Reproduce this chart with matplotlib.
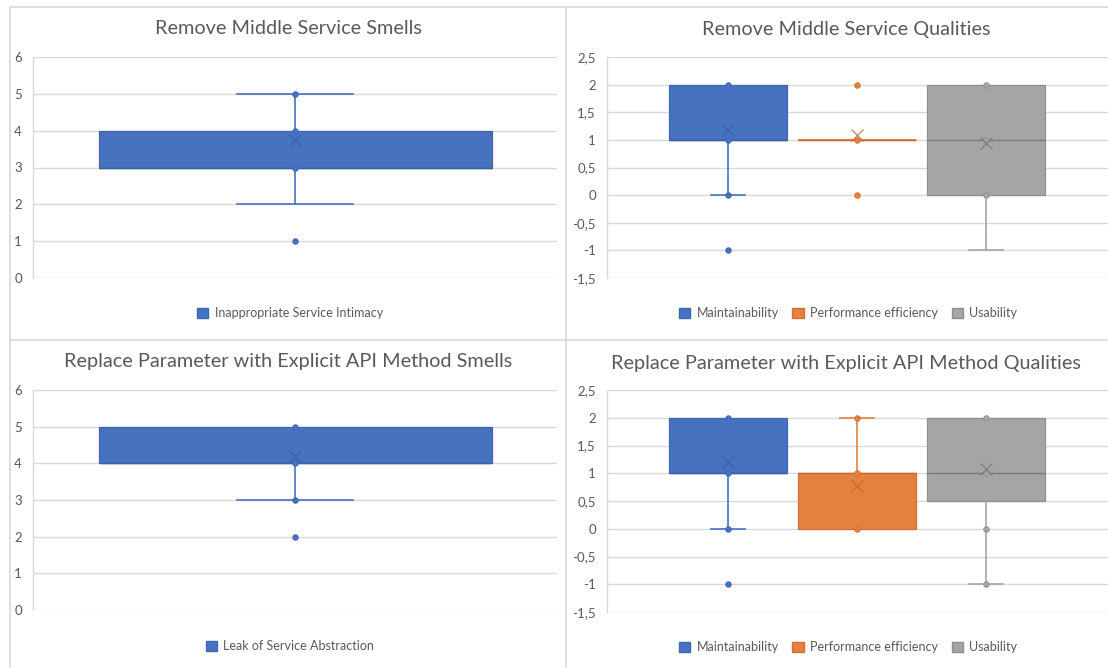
import matplotlib
matplotlib.use('Agg')
import matplotlib.pyplot as plt
from matplotlib.patches import Patch
from matplotlib.lines import Line2D

plt.rcParams['font.family'] = ['Lato', 'DejaVu Sans']

W, H = 1108, 668

# ---------------- data ----------------
titles = ['Remove Middle Service Smells',
          'Remove Middle Service Qualities',
          'Replace Parameter with Explicit API Method Smells',
          'Replace Parameter with Explicit API Method Qualities']

quality_names = ['Maintainability', 'Performance efficiency', 'Usability']

# Remove Middle Service - smells
rms_smell_names = ['Inappropriate Service Intimacy']
rms_smell_q1 = [3]
rms_smell_med = [3]
rms_smell_q3 = [4]
rms_smell_lo = [2]
rms_smell_hi = [5]
rms_smell_mean = [3.75]
rms_smell_points = [[5, 4, 3, 1]]

# Remove Middle Service - qualities
rms_q1 = [1, 1, 0]
rms_med = [1, 1, 1]
rms_q3 = [2, 1, 2]
rms_lo = [0, 1, -1]
rms_hi = [2, 1, 2]
rms_mean = [1.17, 1.08, 0.95]
rms_points = [[2, 1, 0, -1], [2, 1, 0], [2, 1, 0]]

# Replace Parameter with Explicit API Method - smells
rpe_smell_names = ['Leak of Service Abstraction']
rpe_smell_q1 = [4]
rpe_smell_med = [4]
rpe_smell_q3 = [5]
rpe_smell_lo = [3]
rpe_smell_hi = [5]
rpe_smell_mean = [4.2]
rpe_smell_points = [[5, 4, 3, 2]]

# Replace Parameter with Explicit API Method - qualities
rpe_q1 = [1, 0, 0.5]
rpe_med = [1, 1, 1]
rpe_q3 = [2, 1, 2]
rpe_lo = [0, 0, -1]
rpe_hi = [2, 2, 2]
rpe_mean = [1.2, 0.77, 1.08]
rpe_points = [[2, 1, 0, -1], [2, 1, 0], [2, 1, 0, -1]]

smell_ticks = [0, 1, 2, 3, 4, 5, 6]
quality_ticks = [-1.5, -1, -0.5, 0, 0.5, 1, 1.5, 2, 2.5]

# ---------------- style ----------------
FILL = ['#4672C0', '#E4813F', '#A5A5A5']
EDGE = ['#3E67B1', '#D27230', '#8F8F8F']
DARK = ['#3A5FA8', '#C9672A', '#7A7A7A']
TXT = '#595959'
GRID = '#D9D9D9'

fig = plt.figure(figsize=(W / 100, H / 100), dpi=100)


def rect(l, t, r, b):
    return [l / W, 1 - b / H, (r - l) / W, (b - t) / H]


def fmt(v):
    s = ('%g' % v).replace('.', ',')
    return s


def panel(ax, names, q1, med, q3, lo, hi, mean, points, ticks, xlim, width, capw):
    n = len(names)
    pos = list(range(1, n + 1))
    stats = []
    for i in range(n):
        stats.append(dict(q1=q1[i], med=med[i], q3=q3[i], whislo=lo[i],
                          whishi=hi[i], mean=mean[i], fliers=[]))
    r = ax.bxp(stats, positions=pos, widths=width, capwidths=capw,
               patch_artist=True, showmeans=True, showfliers=False,
               manage_ticks=False)
    for i in range(n):
        b = r['boxes'][i]
        b.set_facecolor(FILL[i]); b.set_edgecolor(EDGE[i]); b.set_linewidth(0.9)
        b.set_zorder(2)
        r['medians'][i].set_color(DARK[i]); r['medians'][i].set_linewidth(1.0)
        for k in (2 * i, 2 * i + 1):
            r['whiskers'][k].set_color(FILL[i]); r['whiskers'][k].set_linewidth(1.2)
            r['caps'][k].set_color(FILL[i]); r['caps'][k].set_linewidth(1.2)
        if lo[i] == q1[i]:
            r['whiskers'][2 * i].set_visible(False); r['caps'][2 * i].set_visible(False)
        if hi[i] == q3[i]:
            r['whiskers'][2 * i + 1].set_visible(False); r['caps'][2 * i + 1].set_visible(False)
        if q1[i] == q3[i]:
            b.set_edgecolor(FILL[i]); b.set_linewidth(1.3)
        m = r['means'][i]
        m.set_marker('x'); m.set_markersize(8); m.set_markeredgecolor(DARK[i])
        m.set_markeredgewidth(0.9); m.set_alpha(0.85); m.set_zorder(5)
        ax.scatter([pos[i]] * len(points[i]), points[i], s=16, color=FILL[i],
                   edgecolor=EDGE[i], linewidth=0.6, zorder=4)
    ax.set_xlim(*xlim)
    ax.set_ylim(ticks[0], ticks[-1])
    ax.set_yticks(ticks)
    ax.set_yticklabels([fmt(t) for t in ticks])
    ax.set_xticks([])
    ax.tick_params(axis='y', length=0, pad=8, labelsize=9.5, labelcolor=TXT)
    for s in ('top', 'right', 'bottom'):
        ax.spines[s].set_visible(False)
    ax.spines['left'].set_color(GRID)
    ax.spines['left'].set_linewidth(1.0)
    ax.grid(axis='y', color=GRID, linewidth=1.0)
    ax.set_axisbelow(True)
    ax.patch.set_alpha(0)


ax1 = fig.add_axes(rect(33, 57, 557, 278))
panel(ax1, rms_smell_names, rms_smell_q1, rms_smell_med, rms_smell_q3, rms_smell_lo,
      rms_smell_hi, rms_smell_mean, rms_smell_points, smell_ticks, (0.5, 1.5), 0.75, 0.221)

ax2 = fig.add_axes(rect(607, 57, 1108, 278))
panel(ax2, quality_names, rms_q1, rms_med, rms_q3, rms_lo, rms_hi, rms_mean, rms_points,
      quality_ticks, (0.062, 3.946), 0.915, 0.264)

ax3 = fig.add_axes(rect(33, 390, 557, 610))
panel(ax3, rpe_smell_names, rpe_smell_q1, rpe_smell_med, rpe_smell_q3, rpe_smell_lo,
      rpe_smell_hi, rpe_smell_mean, rpe_smell_points, smell_ticks, (0.5, 1.5), 0.75, 0.221)

ax4 = fig.add_axes(rect(607, 390, 1108, 612))
panel(ax4, quality_names, rpe_q1, rpe_med, rpe_q3, rpe_lo, rpe_hi, rpe_mean, rpe_points,
      quality_ticks, (0.062, 3.946), 0.915, 0.264)

# titles
for (x, y), t in zip([(288, 29), (846, 29), (288, 362), (846, 364)], titles):
    fig.text(x / W, 1 - y / H, t, ha='center', va='center', fontsize=14.3, color=TXT)


# legends
def legend(names, x, y):
    handles = [Patch(facecolor=FILL[i], edgecolor=EDGE[i], label=nm)
               for i, nm in enumerate(names)]
    fig.legend(handles=handles, loc='center', bbox_to_anchor=(x / W, 1 - y / H),
               ncol=len(names), frameon=False, fontsize=9, labelcolor=TXT,
               handlelength=0.9, handleheight=0.9, handletextpad=0.5,
               columnspacing=1.1, borderpad=0, borderaxespad=0)


legend(rms_smell_names, 290, 313)
legend(quality_names, 848, 313)
legend(rpe_smell_names, 290, 646)
legend(quality_names, 848, 647)

# chart-area borders
for (x0, y0, x1, y1) in [(10, 7, 1108, 7), (10, 7, 10, 668), (566, 7, 566, 668),
                         (10, 340, 1108, 340)]:
    fig.add_artist(Line2D([x0 / W, x1 / W], [1 - y0 / H, 1 - y1 / H],
                          color=GRID, linewidth=1.2, transform=fig.transFigure))

fig.savefig('out.png', dpi=100, facecolor='white')
